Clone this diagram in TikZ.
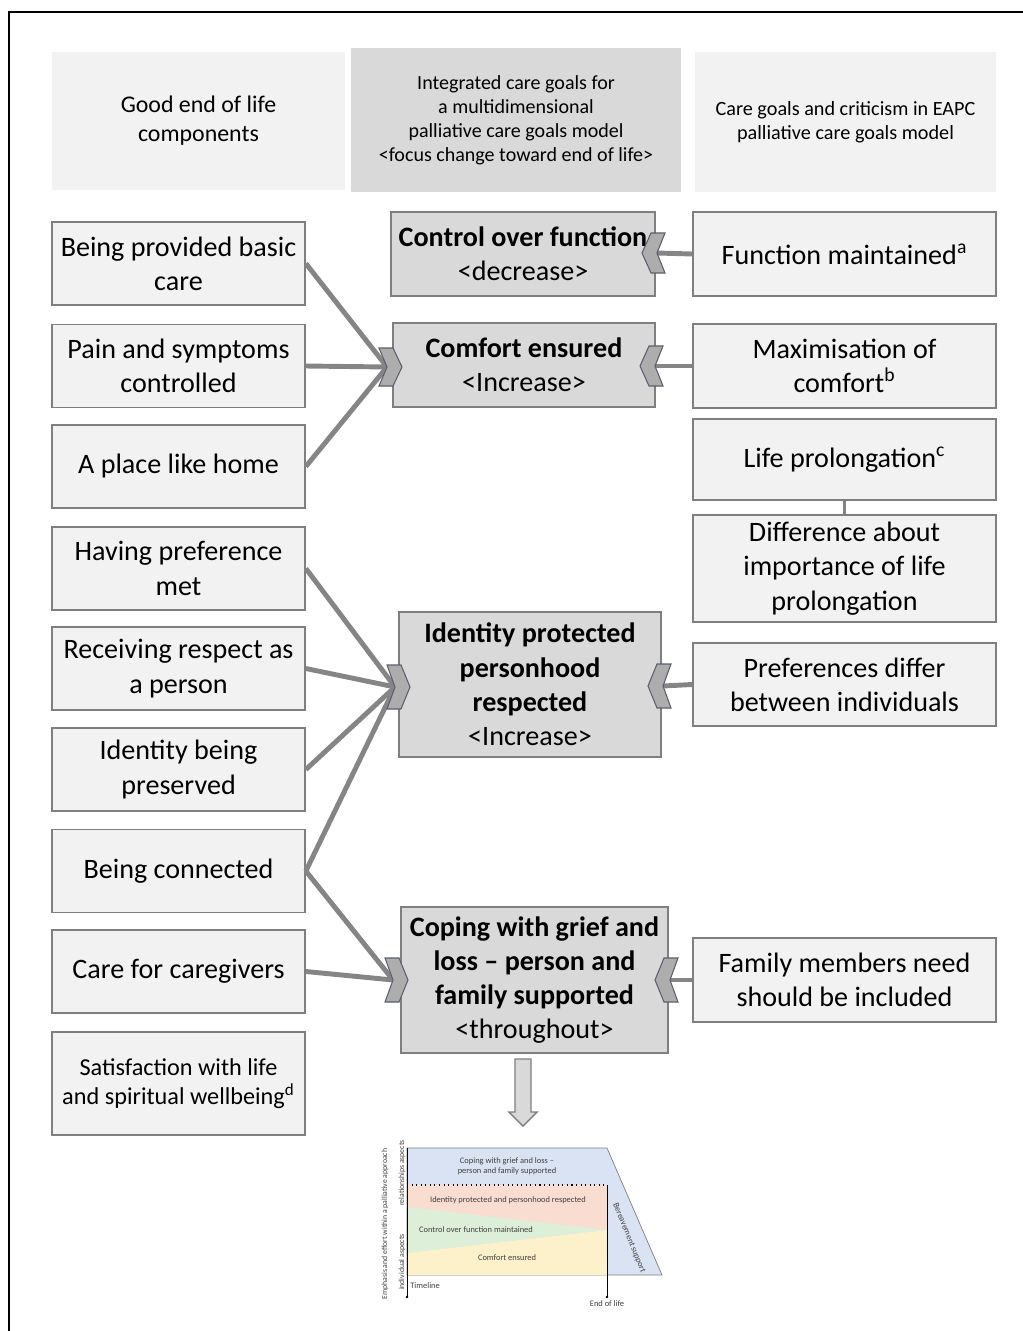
\documentclass[tikz,border=0pt]{standalone}
\usepackage{fontspec}
\setmainfont{Carlito}

\definecolor{boxfill}{HTML}{F2F2F2}
\definecolor{goalfill}{HTML}{D9D9D9}
\definecolor{edge}{HTML}{7F7F7F}
\definecolor{linkgray}{HTML}{858585}
\definecolor{chevfill}{HTML}{ADADAD}
\definecolor{chevedge}{HTML}{5A5F70}
\definecolor{chartblue}{HTML}{DAE3F3}
\definecolor{chartpink}{HTML}{F9DDD0}
\definecolor{chartgreen}{HTML}{DDEFD8}
\definecolor{chartyellow}{HTML}{FDF1CC}
\definecolor{charttext}{HTML}{404040}

\tikzset{
	comp/.style={draw=edge, fill=boxfill, line width=1pt, minimum width=5.06cm, minimum height=1.66cm,
		align=center, inner sep=1pt, font=\fontsize{16}{19.5}\selectfont},
	crit/.style={comp, minimum width=6.06cm},
	goal/.style={comp, fill=goalfill},
	head/.style={fill=boxfill, align=center, inner sep=1pt},
	link/.style={draw=linkgray, line width=2.8pt},
	chev/.style={fill=chevfill, draw=chevedge, line width=0.6pt, line join=miter},
	tiny/.style={text=charttext, align=center, inner sep=0pt, font=\fontsize{4.8}{5.6}\selectfont},
}

\begin{document}
\begin{tikzpicture}[x=0.02cm, y=-0.02cm]
		\useasboundingbox (0,0) rectangle (1023,1331);
		\draw[line width=0.8pt] (9,1331) -- (9,12) -- (1023,12);
		
		% column heads
		\node[head, minimum width=5.86cm, minimum height=2.76cm, font=\fontsize{13.6}{16.5}\selectfont] (h1) at (198.5,121) {Good end of life\\components};
		\node[head, fill=goalfill, minimum width=6.6cm, minimum height=2.88cm, font=\fontsize{11.4}{13.6}\selectfont] (h2) at (516,120) {Integrated care goals for\\a multidimensional\\palliative care goals model\\<focus change toward end of life>};
		\node[head, minimum width=6.02cm, minimum height=2.8cm, font=\fontsize{11.5}{13.6}\selectfont] (h3) at (845.5,122) {Care goals and criticism in EAPC\\palliative care goals model};
		
		% good end of life components
		\foreach \n/\y/\s in {1/263.5/{Being provided basic\\care}, 2/366/{Pain and symptoms\\controlled},
			3/466.5/{A place like home}, 4/568.5/{Having preference\\met},
			5/668.5/{Receiving respect as\\a person}, 6/769.5/{Identity being\\preserved},
			7/871/{Being connected}, 8/971.5/{Care for caregivers}}
		\node[comp] (l\n) at (178.5,\y) {\s};
		\node[comp, minimum height=2.06cm, font=\fontsize{13.8}{16.5}\selectfont] (l9) at (178.5,1083.5) {Satisfaction with life\\and spiritual wellbeing\textsuperscript{d}};
		
		% integrated care goals
		\node[goal, minimum width=5.28cm, minimum height=1.68cm] (m1) at (523,254) {\textbf{Control over function}\\<decrease>};
		\node[goal, minimum width=5.24cm, minimum height=1.68cm] (m2) at (524,365) {\textbf{Comfort ensured}\\<Increase>};
		\node[goal, minimum width=5.24cm, minimum height=2.9cm] (m3) at (530,684.5) {\textbf{Identity protected}\\\textbf{personhood}\\\textbf{respected}\\<Increase>};
		\node[goal, minimum width=5.34cm, minimum height=2.92cm] (m4) at (534.5,980) {\textbf{Coping with grief and}\\\textbf{loss -- person and}\\\textbf{family supported}\\<throughout>};
		
		% EAPC care goals and criticism
		\foreach \n/\y/\h/\s in {1/254/1.68/{Function maintained\textsuperscript{a}}, 2/366/1.68/{Maximisation of\\comfort\textsuperscript{b}},
			3/459.5/1.62/{Life prolongation\textsuperscript{c}}, 4/568.5/2.14/{Difference about\\importance of life\\prolongation},
			5/684.5/1.66/{Preferences differ\\between individuals}, 6/980/1.68/{Family members need\\should be included}}
		\node[crit, minimum height=\h cm] (r\n) at (844.5,\y) {\s};
		
		\coordinate (m1r) at (657,253);
		\coordinate (m2l) at (387,367);
		\coordinate (m2r) at (655,366);
		\coordinate (m3l) at (395,687);
		\coordinate (m3r) at (663,686);
		\coordinate (m4l) at (393,980);
		\coordinate (m4r) at (670,980);
		
		\foreach \a/\b in {l1/m2l, l2/m2l, l3/m2l, l4/m3l, l5/m3l, l6/m3l, l7/m3l, l7/m4l, l8/m4l}
		\draw[link] (\a.east) -- (\b);
		\foreach \a/\b in {r1/m1r, r2/m2r, r5/m3r, r6/m4r}
		\draw[link] (\a.west) -- (\b);
		\draw[link, line width=2pt] (r3) -- (r4);
		
		\foreach \c/\h in {m2l/19, m3l/22, m4l/22}
		\draw[chev, shift={(\c)}] (-8,-\h) -- (6,-\h) -- (15,0) -- (6,\h) -- (-8,\h) -- (0,0) -- cycle;
		\foreach \c/\h in {m1r/20, m2r/20, m3r/22, m4r/22}
		\draw[chev, shift={(\c)}] (8,-\h) -- (-6,-\h) -- (-15,0) -- (-6,\h) -- (8,\h) -- (0,0) -- cycle;
		
		% down arrow
		\draw[fill=goalfill, draw=edge, line width=0.8pt] (515,1059) -- (531,1059) -- (531,1112) -- (537,1112)
			-- (523,1126) -- (509,1112) -- (515,1112) -- cycle;
		
		% small chart
		\filldraw[fill=chartblue, draw=edge, line width=0.4pt] (407,1148) -- (607,1148) -- (662,1275) -- (407,1275) -- cycle;
		\fill[chartpink] (407,1185) -- (607,1185) -- (607,1230) -- (407,1207) -- cycle;
		\fill[chartgreen] (407,1207) -- (607,1230) -- (407,1253) -- cycle;
		\fill[chartyellow] (407,1253) -- (607,1230) -- (607,1275) -- (407,1275) -- cycle;
		\draw[dotted, line width=0.6pt] (407,1185) -- (607,1185);
		\draw[line width=0.4pt] (607,1185) -- (607,1297);
		\draw[line width=0.4pt] (407,1148) -- (407,1297);
		\fill (407,1297) circle (1.4);
		\fill (607,1297) circle (1.4);
		
		\node[tiny] (t1) at (507,1166) {Coping with grief and loss --\\person and family supported};
		\node[tiny] (t2) at (508,1200) {Identity protected and personhood respected};
		\node[tiny] (t3) at (476,1230) {Control over function maintained};
		\node[tiny] (t4) at (507,1258) {Comfort ensured};
		\node[tiny, rotate=-68] (t5) at (629,1238) {Bereavement support};
		\node[tiny, font=\fontsize{4.4}{5}\selectfont, rotate=90] (t6) at (385,1224) {Emphasis and effort within a palliative approach};
		\node[tiny, font=\fontsize{4.4}{5}\selectfont, rotate=90] (t7) at (402,1173) {relationships aspects};
		\node[tiny, font=\fontsize{4.4}{5}\selectfont, rotate=90] (t8) at (402,1262) {individual aspects};
		\node[tiny, anchor=west] (t9) at (410,1286) {Timeline};
		\node[tiny] (t10) at (607,1304) {End of life};
	\end{tikzpicture}
\end{document}
